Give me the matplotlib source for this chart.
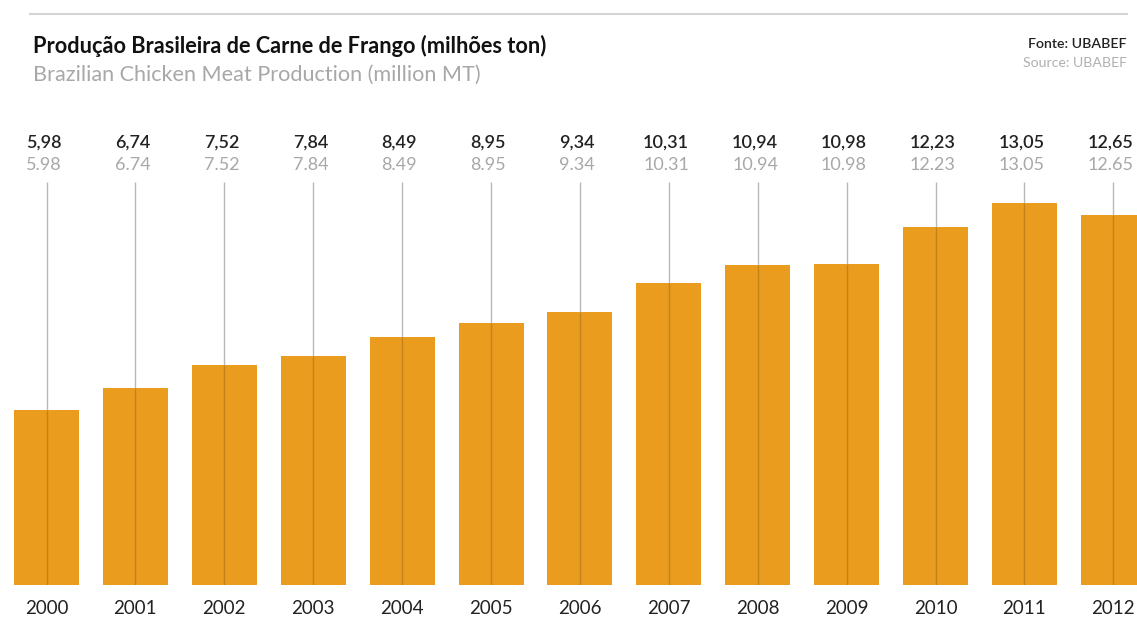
import matplotlib
matplotlib.use("Agg")
import matplotlib.pyplot as plt
from matplotlib.transforms import blended_transform_factory
from matplotlib.lines import Line2D

years = ["2000", "2001", "2002", "2003", "2004", "2005", "2006",
         "2007", "2008", "2009", "2010", "2011", "2012"]
production = [5.98, 6.74, 7.52, 7.84, 8.49, 8.95, 9.34,
              10.31, 10.94, 10.98, 12.23, 13.05, 12.65]

title_pt = "Produção Brasileira de Carne de Frango (milhões ton)"
title_en = "Brazilian Chicken Meat Production (million MT)"
source_pt = "Fonte: UBABEF"
source_en = "Source: UBABEF"

W, H = 1137, 621
BASE_PX = 585          # baseline position, px from top
PX_PER_UNIT = 29.25    # vertical scale
FIRST_X = 46.5         # centre of first bar, px
STEP = 88.9            # bar spacing, px

BAR = "#E99C1E"
BAR_LINE = "#C4831A"
GUIDE = "#B8B8B8"
DARK = "#222222"
GREY = "#A8A8A8"

plt.rcParams["font.family"] = ["Lato", "DejaVu Sans"]

fig = plt.figure(figsize=(W / 100, H / 100), dpi=100)
fig.patch.set_facecolor("white")

ax = fig.add_axes([0, (H - BASE_PX) / H, 1, BASE_PX / H])
ax.set_xlim(-FIRST_X / STEP, (W - FIRST_X) / STEP)
ax.set_ylim(0, BASE_PX / PX_PER_UNIT)
ax.axis("off")

x = list(range(len(years)))
ax.bar(x, production, width=65 / STEP, color=BAR, linewidth=0, zorder=1)

# thin guide through each bar, from the label down to the baseline
guide_top = (BASE_PX - 182) / PX_PER_UNIT
ax.vlines(x, production, guide_top, color=GUIDE, lw=1.0, zorder=2)
ax.vlines(x, 0, production, color=BAR_LINE, lw=1.0, zorder=2)

tr = blended_transform_factory(ax.transData, fig.transFigure)
for xi, v, yr in zip(x, production, years):
    ax.text(xi - 0.03, 1 - 143 / H, f"{v:.2f}".replace(".", ","), transform=tr,
            ha="center", va="center", fontsize=13, color=DARK,
            fontweight="semibold")
    ax.text(xi - 0.03, 1 - 165 / H, f"{v:.2f}", transform=tr,
            ha="center", va="center", fontsize=13, color=GREY)
    ax.text(xi, 1 - 609 / H, yr, transform=tr,
            ha="center", va="center", fontsize=13.5, color=DARK)

# header
fig.add_artist(Line2D([30 / W, 1127 / W], [1 - 14 / H, 1 - 14 / H],
                      color="#D4D4D4", lw=1.5))
fig.text(33 / W, 1 - 46 / H, title_pt, ha="left", va="center",
         fontsize=15.7, fontweight="bold", color="#111111")
fig.text(33 / W, 1 - 75 / H, title_en, ha="left", va="center",
         fontsize=15.6, color=GREY)
fig.text(1127 / W, 1 - 44 / H, source_pt, ha="right", va="center",
         fontsize=10.2, fontweight="semibold", color="#222222")
fig.text(1127 / W, 1 - 63 / H, source_en, ha="right", va="center",
         fontsize=10.2, color="#B0B0B0")

fig.savefig("out.png", dpi=100, facecolor="white")
